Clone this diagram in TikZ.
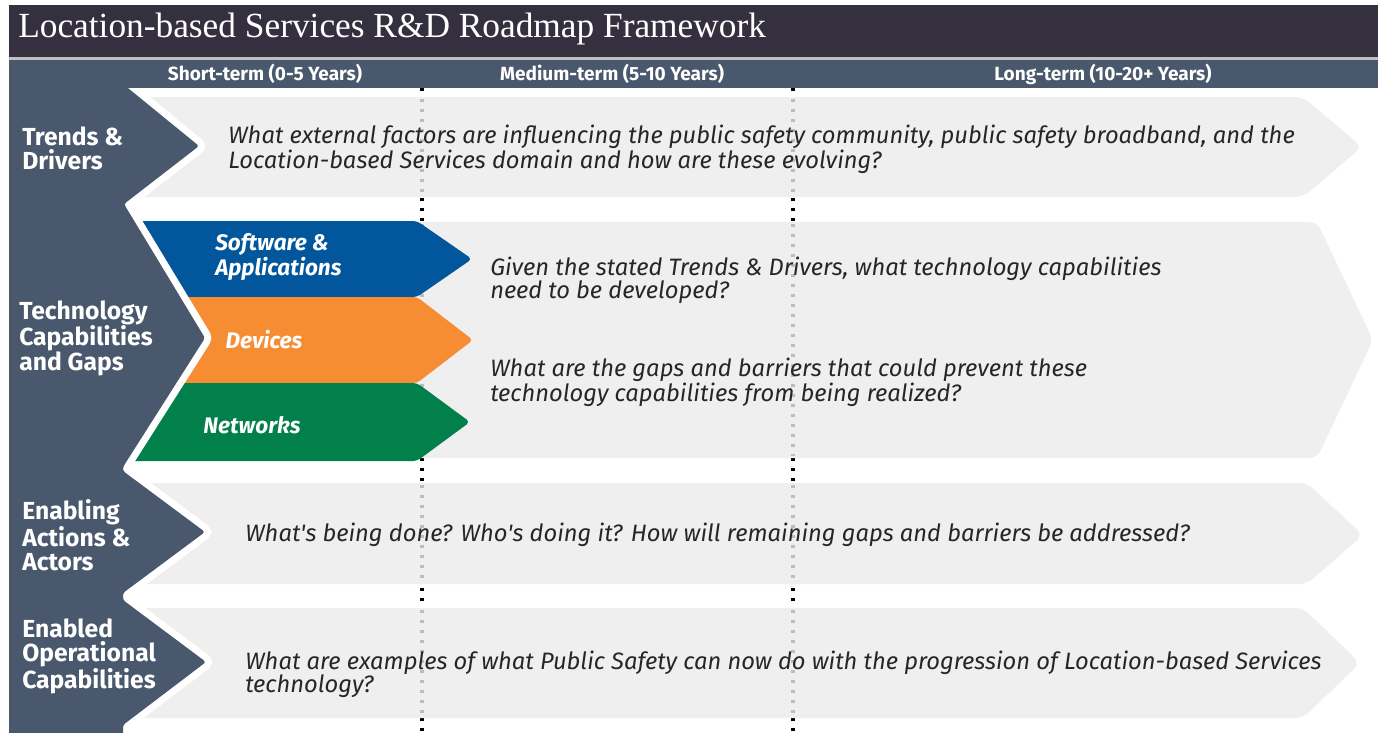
\documentclass[tikz,border=0pt]{standalone}
\usepackage{fontspec}
\setmainfont{Liberation Serif}
\setsansfont{Fira Sans}
\usepackage{xcolor}
\usetikzlibrary{positioning}

\definecolor{titlebg}{RGB}{53,48,63}
\definecolor{slate}{RGB}{73,88,108}
\definecolor{bandgray}{RGB}{239,239,239}
\definecolor{swblue}{RGB}{2,86,155}
\definecolor{devorange}{RGB}{246,141,51}
\definecolor{netgreen}{RGB}{1,128,75}
\definecolor{dotgray}{RGB}{188,188,188}

\begin{document}
\begin{tikzpicture}[
  x=0.75pt, y=-0.75pt,
  band/.style={fill=bandgray, rounded corners=6pt},
  tech/.style={rounded corners=3pt},
  column/.style={fill=slate, rounded corners=2pt, preaction={draw=white, line width=10.5pt}},
  blackdots/.style={draw=black, line width=2.4pt, dash pattern=on 2.4pt off 5.1pt},
  greydots/.style={draw=dotgray, line width=2.4pt, dash pattern=on 2.4pt off 5.1pt},
  termlab/.style={font=\sffamily\bfseries\fontsize{14.3}{16}\selectfont, text=white, inner sep=0pt},
  rowlab/.style={font=\sffamily\bfseries\fontsize{18.5}{18.2}\selectfont, text=white, align=left, anchor=west, inner sep=0pt},
  techlab/.style={font=\sffamily\bfseries\itshape\fontsize{16.9}{16.8}\selectfont, text=white, align=left, inner sep=0pt},
  qtext/.style={font=\sffamily\itshape\fontsize{17.8}{17.4}\selectfont, text=black!85, align=left, anchor=west, inner sep=0pt}]
\clip (0,0) rectangle (1378,732);
\fill[white] (0,0) rectangle (1378,732);
% ---------------- time dividers (behind the bands) ----------------
\coordinate (d1) at (422,88);
\coordinate (d2) at (793,88);
\draw[blackdots] (d1) -- (d1 |- 0,732);
\draw[blackdots] (d2) -- (d2 |- 0,732);
% ---------------- grey bands ----------------
\fill[band] (110,97) -- (1303,97) -- (1362,147) -- (1303,197) -- (110,197) -- cycle;
\fill[band] (110,222) -- (1317,222) -- (1373,340) -- (1317,458) -- (110,458) -- cycle;
\fill[band] (110,483) -- (1307,483) -- (1363,535) -- (1307,584) -- (110,584) -- cycle;
\fill[band] (110,608) -- (1303,608) -- (1360,663) -- (1303,718) -- (110,718) -- cycle;
\foreach \a/\b in {97/197, 222/458, 483/584, 608/718} {
  \draw[greydots] (422,\a+2) -- (422,\b-2);
  \draw[greydots] (793,\a+2) -- (793,\b-2);
}
% ---------------- technology arrows ----------------
\fill[tech, swblue] (100,221) -- (417,221) -- (472,259) -- (417,297) -- (100,297) -- cycle;
\fill[tech, devorange] (100,297) -- (417,297) -- (473,340) -- (417,383) -- (100,383) -- cycle;
\fill[tech, netgreen] (100,383) -- (417,383) -- (470,422) -- (417,461) -- (100,461) -- cycle;
% ---------------- left column with chevrons ----------------
\path[column] (9,84) -- (123,84) -- (199,146) -- (124,204) -- (205,338) -- (123,467)
  -- (123,471) -- (205,532) -- (123,593) -- (123,600) -- (206,662) -- (123,725)
  -- (123,745) -- (9,745) -- cycle;
% ---------------- title and header ----------------
\fill[titlebg] (9,5) rectangle (1378,57);
\fill[black!25] (9,57) rectangle (1378,60);
\fill[slate] (9,60) rectangle (1378,88);
\node[font=\rmfamily\fontsize{26.5}{28}\selectfont, text=white, anchor=base west, inner sep=0pt] (title) at (18,37) {Location-based Services R\&D Roadmap Framework};
\node[termlab] (short) at (265,74) {Short-term (0-5 Years)};
\node[termlab] (medium) at (612,74) {Medium-term (5-10 Years)};
\node[termlab] (long) at (1103,74) {Long-term (10-20+ Years)};
% ---------------- row labels ----------------
\node[rowlab] (trends) at (22,148) {Trends \&\\Drivers};
\node[rowlab] (techgaps) at (19,338) {Technology\\Capabilities\\and Gaps};
\node[rowlab] (actions) at (22,535) {Enabling\\Actions \&\\Actors};
\node[rowlab] (enabled) at (22,656) {Enabled\\Operational\\Capabilities};
\node[techlab, anchor=west] (software) at (215,257) {Software \&\\Applications};
\node[techlab] (devices) at (264,340) {Devices};
\node[techlab] (networks) at (252,425) {Networks};
% ---------------- questions ----------------
\node[qtext] (qtrends) at (228,149) {What external factors are influencing the public safety community, public safety broadband, and the\\Location-based Services domain and how are these evolving?};
\node[qtext] (qneed) at (490,280) {Given the stated Trends \& Drivers, what technology capabilities\\need to be developed?};
\node[qtext] (qgaps) at (490,382) {What are the gaps and barriers that could prevent these\\technology capabilities from being realized?};
\node[qtext] (qactions) at (245,535) {What\textquotesingle s being done? Who\textquotesingle s doing it? How will remaining gaps and barriers be addressed?};
\node[qtext] (qenabled) at (245,674) {What are examples of what Public Safety can now do with the progression of Location-based Services\\technology?};
\end{tikzpicture}
\end{document}
